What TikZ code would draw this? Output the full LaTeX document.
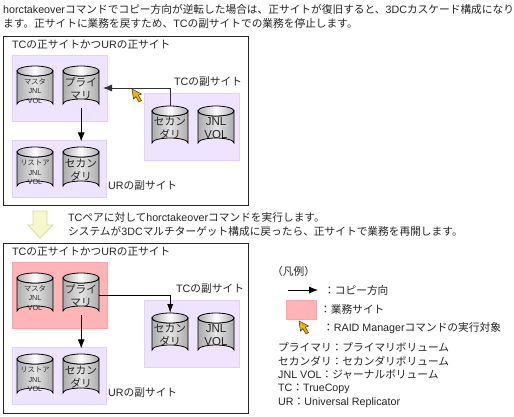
\documentclass[tikz,border=0pt]{standalone}
\usepackage{fontspec}
\setmainfont{Liberation Sans}
\newfontfamily\cjk{Noto Sans CJK JP}
\newcommand{\J}[1]{{\cjk #1}}
\usetikzlibrary{arrows.meta}
\lineskiplimit=-30pt
\definecolor{sitefill}{HTML}{EFE4FF}
\definecolor{siteline}{HTML}{E2D0FF}
\definecolor{redfill}{HTML}{FFB5B5}
\definecolor{redline}{HTML}{FFA3A3}
\definecolor{cyldark}{HTML}{ABABAB}
\definecolor{cyllight}{HTML}{E4E4E4}
\definecolor{cursorfill}{HTML}{F2B200}
\definecolor{downfill}{HTML}{F7F7CC}
\definecolor{downline}{HTML}{D9D9A6}
\tikzset{
  panel/.style={draw=black!85,line width=1pt,fill=white,anchor=north west,inner sep=0pt},
  sitebox/.style={draw=siteline,fill=sitefill,line width=.8pt,anchor=north west,inner sep=0pt},
  busbox/.style={draw=redline,fill=redfill,line width=.8pt,anchor=north west,inner sep=0pt},
  txt/.style={anchor=west,inner sep=0pt,font=\fontsize{10.7}{12}\selectfont,text=black!85},
  cyltext/.style={align=center,inner sep=0pt,font=\fontsize{10.7}{13}\selectfont,text=black!85},
  cylbig/.style={align=center,inner sep=0pt,font=\fontsize{11.5}{13}\selectfont,text=black!85},
  cylsmall/.style={align=center,inner sep=0pt,yshift=-2pt,font=\fontsize{7.3}{9.5}\selectfont,text=black!80},
  copyarrow/.style={draw=black,line width=.8pt,-{Latex[length=9pt,width=7pt]}},
  hit/.style={inner sep=0pt,minimum width=36pt,anchor=north west},
}
% name, x, y, height, style, text
\newcommand{\cyl}[6]{%
  \begin{scope}[shift={(#2,#3)}]
    \draw[black,line width=.8pt,left color=cyldark,right color=cyldark,middle color=cyllight]
      (0,5) -- (0,#4-4) arc[start angle=180,end angle=360,x radius=18,y radius=5]
      -- (36,5) arc[start angle=0,end angle=180,x radius=18,y radius=5] -- cycle;
    \draw[black,line width=.8pt,left color=cyldark,right color=cyldark,middle color=white]
      (18,5) ellipse[x radius=18,y radius=5];
  \end{scope}
  \node[hit,minimum height=#4 pt] (#1) at (#2,#3) {};
  \node[#5] (#1t) at (#2+18,#3+#4/2+2) {#6};
}
% cursor, tip at x,y
\newcommand{\cursorat}[2]{%
  \filldraw[shift={(#1,#2)},draw=black!80,line width=.5pt,fill=cursorfill]
   (0,0) -- (1.5,10) -- (3.8,7.6) -- (7,13) -- (9.5,11.5) -- (6.3,6.2) -- (9.5,5) -- cycle;
}
\newcommand{\panel}[8]{% name, y0, height, site1 y, site1 style, ur y, tc y, label x
  \node[panel,minimum width=245pt,minimum height=#3 pt] (#1) at (3,#2) {};
  \node[txt] (#1a) at (12,#2+8.5) {TC\J{の正サイトかつ}UR\J{の正サイト}};
  \node[#5,minimum width=95pt,minimum height=66pt] (#1s) at (12,#4) {};
  \node[sitebox,minimum width=94pt,minimum height=57pt] (#1u) at (12,#6) {};
  \node[sitebox,minimum width=95pt,minimum height=67pt] (#1c) at (144,#7) {};
  \cyl{#1m}{17}{#4+11}{42}{cylsmall}{\J{マスタ}\\JNL\\VOL}
  \cyl{#1p}{63}{#4+11}{42}{cyltext}{\J{プライ}\\\J{マリ}}
  \cyl{#1r}{17}{#6+7}{43}{cylsmall}{\J{リストア}\\JNL\\VOL}
  \cyl{#1q}{63}{#6+7}{43}{cyltext}{\J{セカン}\\\J{ダリ}}
  \cyl{#1x}{152}{#7+13}{41}{cyltext}{\J{セカン}\\\J{ダリ}}
  \cyl{#1j}{198}{#7+13}{41}{cylbig}{JNL\\VOL}
  \node[txt] (#1b) at (#8,#7-11) {TC\J{の副サイト}};
  \node[txt] (#1d) at (108,#6+46) {UR\J{の副サイト}};
  \draw[copyarrow] (#1p.south) -- ([yshift=-33pt]#1p.south);
}
\begin{document}
\begin{tikzpicture}[x=1pt,y=-1pt]
\useasboundingbox (0,0) rectangle (514,416);
\fill[white] (0,0) rectangle (514,416);

\node[txt] (h1) at (3,9) {horctakeover\J{コマンドでコピー方向が逆転した場合は、正サイトが復旧すると、}3DC\J{カスケード構成になり}};
\node[txt] (h2) at (3,23) {\J{ます。正サイトに業務を戻すため、}TC\J{の副サイトでの業務を停止します。}};

\panel{A}{36}{169}{55}{sitebox}{140}{93}{174}
\coordinate (Atip) at (103,88);
\draw[draw=black!80,line width=.8pt,-{Latex[length=9pt,width=7pt]}] (Ax.north) |- (Atip);
\cursorat{132}{89}

\draw[draw=downline,fill=downfill,line width=.8pt]
  (33,211) -- (47,211) -- (47,225) -- (53,225) -- (40,238) -- (28,225) -- (33,225) -- cycle;

\node[txt] (m1) at (68,217) {TC\J{ペアに対して}horctakeover\J{コマンドを実行します。}};
\node[txt] (m2) at (68,231) {\J{システムが}3DC\J{マルチターゲット構成に戻ったら、正サイトで業務を再開します。}};

\panel{B}{243}{170}{262}{busbox}{347}{300}{176}
\coordinate (Bstart) at (99,295);
\draw[black,line width=.8pt,-{Latex[length=9pt,width=6pt]}] (Bstart) -| (Bx.north);

% legend
\node[txt] (lg) at (272,271) {\J{（凡例）}};
\coordinate (la) at (288,290);
\coordinate (lb) at (318,290);
\draw[copyarrow] (la) -- (lb);
\node[txt] (l1) at (324,290) {\J{：コピー方向}};
\node[busbox,minimum width=30pt,minimum height=19pt] (lred) at (286,300) {};
\node[txt] (l2) at (320,309) {\J{：業務サイト}};
\cursorat{299}{321}
\node[txt] (l3) at (323,328) {\J{：}RAID Manager\J{コマンドの実行対象}};
\node[txt] (k1) at (278,347) {\J{プライマリ：プライマリボリューム}};
\node[txt] (k2) at (278,361) {\J{セカンダリ：セカンダリボリューム}};
\node[txt] (k3) at (278,375) {JNL VOL\J{：ジャーナルボリューム}};
\node[txt] (k4) at (278,389) {TC\J{：}TrueCopy};
\node[txt] (k5) at (278,403) {UR\J{：}Universal Replicator};
\end{tikzpicture}
\end{document}
